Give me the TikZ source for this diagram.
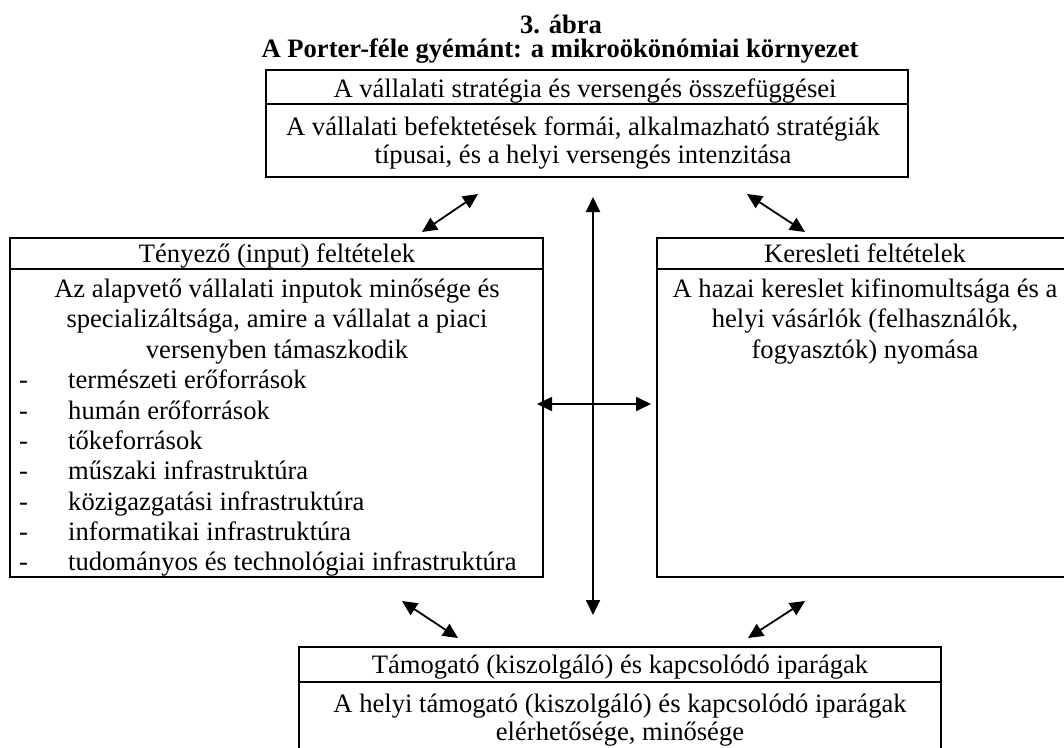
\documentclass[tikz,border=0pt]{standalone}
\usepackage{fontspec}
\setmainfont{Liberation Serif}
\usetikzlibrary{arrows.meta,fit}
\begin{document}
\begin{tikzpicture}[x=1pt,y=-1pt,
  panel/.style={draw, line width=2.4pt, inner sep=0pt},
  sepline/.style={line width=2.4pt},
  txt/.style={anchor=base, inner sep=0pt, font=\fontsize{26.6}{30}\selectfont},
  ttl/.style={anchor=base, inner sep=0pt, font=\fontsize{26.6}{30}\selectfont\bfseries},
  itemtxt/.style={anchor=base west, inner sep=0pt, font=\fontsize{26.6}{30}\selectfont},
  dbl/.style={line width=1.8pt, {Triangle[length=15pt,width=14pt]}-{Triangle[length=15pt,width=14pt]}},
]
\path[use as bounding box, clip] (0,0) rectangle (1064,747);

% title
\node[ttl] (t1) at (561,33) {3. ábra};
\node[ttl] (t2) at (560,57) {A Porter-féle gyémánt: a mikroökönómiai környezet};

% top box
\node[panel, fit={(266,70) (908,177)}] (top) {};
\draw[sepline] (top.west |- 0,104) -- (top.east |- 0,104);
\node[txt] (toph) at (585,97) {A vállalati stratégia és versengés összefüggései};
\node[txt] (topb1) at (583,135) {A vállalati befektetések formái, alkalmazható stratégiák};
\node[txt] (topb2) at (583,163) {típusai, és a helyi versengés intenzitása};

% left box
\node[panel, fit={(10,238) (543,577)}] (left) {};
\draw[sepline] (left.west |- 0,269) -- (left.east |- 0,269);
\node[txt] (lefth) at (277,262) {Tényező (input) feltételek};
\node[txt] (leftb1) at (277,297) {Az alapvető vállalati inputok minősége és};
\node[txt] (leftb2) at (277,327) {specializáltsága, amire a vállalat a piaci};
\node[txt] (leftb3) at (277,358) {versenyben támaszkodik};
\foreach \y/\t [count=\i] in {388/természeti erőforrások, 419/humán erőforrások, 449/tőkeforrások, 479/műszaki infrastruktúra, 510/közigazgatási infrastruktúra, 540/informatikai infrastruktúra, 570/tudományos és technológiai infrastruktúra}{
  \node[itemtxt] (dash\i) at (19,\y) {-};
  \node[itemtxt] (item\i) at (68,\y) {\t};
}

% right box
\node[panel, fit={(657,238) (1073,577)}] (right) {};
\draw[sepline] (right.west |- 0,269) -- (right.east |- 0,269);
\node[txt] (righth) at (865,262) {Keresleti feltételek};
\node[txt] (rightb1) at (865,297) {A hazai kereslet kifinomultsága és a};
\node[txt] (rightb2) at (865,327) {helyi vásárlók (felhasználók,};
\node[txt] (rightb3) at (865,358) {fogyasztók) nyomása};

% bottom box
\node[panel, fit={(299,647) (941,765)}] (bot) {};
\draw[sepline] (bot.west |- 0,682) -- (bot.east |- 0,682);
\node[txt] (both) at (620,673) {Támogató (kiszolgáló) és kapcsolódó iparágak};
\node[txt] (botb1) at (620,712) {A helyi támogató (kiszolgáló) és kapcsolódó iparágak};
\node[txt] (botb2) at (620,740) {elérhetősége, minősége};

% arrow end points
\coordinate (tl1) at (422,232);
\coordinate (tl2) at (478,194);
\coordinate (tr1) at (747,194);
\coordinate (tr2) at (805,232);
\coordinate (bl1) at (402,601);
\coordinate (bl2) at (458,638);
\coordinate (br1) at (748,638);
\coordinate (br2) at (805,601);
\coordinate (vt) at (593,197);
\coordinate (vb) at (593,615);
\coordinate (hl) at (537,404);
\coordinate (hr) at (651,404);

\draw[dbl] (tl1) -- (tl2);
\draw[dbl] (tr1) -- (tr2);
\draw[dbl] (bl1) -- (bl2);
\draw[dbl] (br1) -- (br2);
\draw[dbl] (vt) -- (vb);
\draw[dbl] (hl) -- (hr);
\end{tikzpicture}
\end{document}
